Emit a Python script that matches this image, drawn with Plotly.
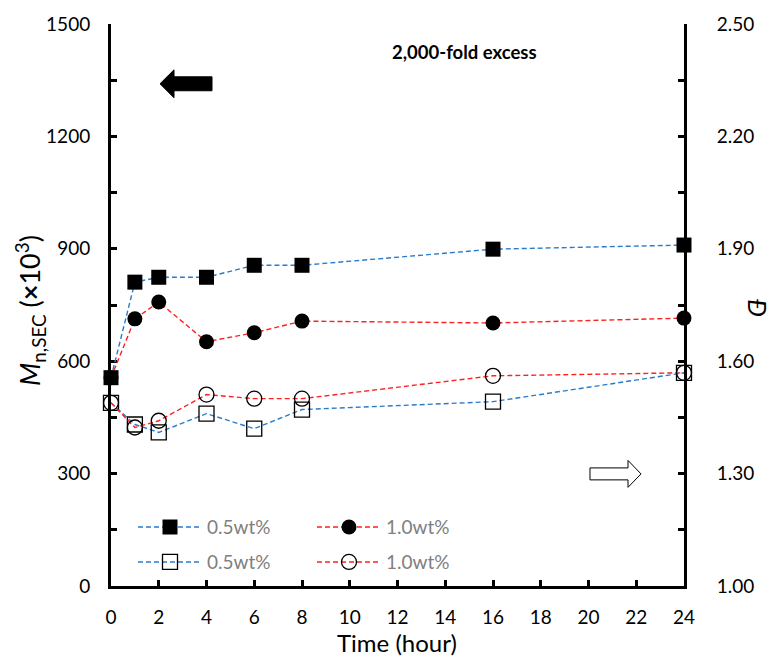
import plotly.graph_objects as go

# ---------------- data ----------------
time_h = [0, 1, 2, 4, 6, 8, 16, 24]
mn_05 = [556, 811, 824, 824, 856, 856, 899, 910]          # filled squares, left axis
mn_10 = [556, 713, 758, 652, 676, 707, 702, 715]          # filled circles, left axis
d_05 = [1.489, 1.431, 1.410, 1.460, 1.420, 1.471, 1.492, 1.569]  # open squares, right axis
d_10 = [1.489, 1.423, 1.441, 1.511, 1.500, 1.500, 1.561, 1.569]  # open circles, right axis
series_names = ["0.5wt%", "1.0wt%", "0.5wt%", "1.0wt%"]
x_ticks = list(range(0, 25, 2))

BLUE = "#2B7BCB"
RED = "#FF2020"
FONT = "Lato"

W, H = 772, 659
L, R, T, B = 111, 684, 22, 586  # plot area in pixels


def px(x):
    return (x - L) / (R - L)


def py(y):
    return (B - y) / (B - T)


fig = go.Figure()
dash = "5px,3px"

fig.add_trace(go.Scatter(x=time_h, y=mn_10, name=series_names[1], mode="lines+markers",
                         line=dict(color=RED, width=1.4, dash=dash),
                         marker=dict(symbol="circle", size=15, color="black"),
                         cliponaxis=False, legend="legend", legendrank=2))
fig.add_trace(go.Scatter(x=time_h, y=mn_05, name=series_names[0], mode="lines+markers",
                         line=dict(color=BLUE, width=1.4, dash=dash),
                         marker=dict(symbol="square", size=15, color="black"),
                         cliponaxis=False, legend="legend", legendrank=1))
fig.add_trace(go.Scatter(x=time_h, y=d_05, name=series_names[2], mode="lines+markers",
                         yaxis="y2",
                         line=dict(color=BLUE, width=1.4, dash=dash),
                         marker=dict(symbol="square-open", size=15, color="black",
                                     line=dict(width=1.3, color="black")),
                         cliponaxis=False, legend="legend2", legendrank=1))
fig.add_trace(go.Scatter(x=time_h, y=d_10, name=series_names[3], mode="lines+markers",
                         yaxis="y2",
                         line=dict(color=RED, width=1.4, dash=dash),
                         marker=dict(symbol="circle-open", size=15, color="black",
                                     line=dict(width=1.3, color="black")),
                         cliponaxis=False, legend="legend2", legendrank=2))

tickfont = dict(family=FONT, size=19, color="black")

legend_common = dict(orientation="h", font=dict(family=FONT, size=19, color="#7F7F7F"),
                     bgcolor="rgba(0,0,0,0)", itemwidth=64, entrywidth=100,
                     entrywidthmode="pixels", xanchor="left", yanchor="middle",
                     itemclick=False, itemdoubleclick=False)

fig.update_layout(
    width=W, height=H,
    margin=dict(l=L, r=W - R, t=T, b=H - B),
    paper_bgcolor="white", plot_bgcolor="white",
    showlegend=True,
    legend=dict(x=px(133), y=py(527), **legend_common),
    legend2=dict(x=px(133), y=py(562), **legend_common),
    xaxis=dict(range=[0, 24], tickvals=x_ticks, showgrid=False, zeroline=False,
               showline=True, linecolor="black", linewidth=3, ticks="inside",
               ticklen=6, tickwidth=3, tickcolor="black", tickfont=tickfont,
               ticklabelstandoff=12, layer="below traces"),
    yaxis=dict(range=[0, 1500], tick0=0, dtick=300, showgrid=False, zeroline=False,
               showline=True, linecolor="black", linewidth=3, ticks="inside",
               ticklen=6, tickwidth=3, tickcolor="black", tickfont=tickfont,
               minor=dict(tick0=0, dtick=150, ticks="inside", ticklen=6, tickwidth=3,
                          tickcolor="black"),
               ticklabelstandoff=14, layer="below traces"),
    yaxis2=dict(range=[1.0, 2.5], tick0=1.0, dtick=0.3, tickformat=".2f", overlaying="y",
                side="right", showgrid=False, zeroline=False,
                showline=True, linecolor="black", linewidth=3, ticks="inside",
                ticklen=6, tickwidth=3, tickcolor="black", tickfont=tickfont,
                minor=dict(tick0=1.0, dtick=0.15, ticks="inside", ticklen=6, tickwidth=3,
                           tickcolor="black"),
                ticklabelstandoff=26, layer="below traces"),
)

# axis titles
fig.add_annotation(text="<i>M</i><sub>n,SEC</sub> (<b>×</b>10<sup>3</sup>)",
                   xref="paper", yref="paper", x=px(30), y=py(310), textangle=-90,
                   showarrow=False, font=dict(family=FONT, size=27, color="black"),
                   xanchor="center", yanchor="middle")
fig.add_annotation(text="<i>Đ</i>", xref="paper", yref="paper", x=px(758), y=py(307),
                   textangle=90, showarrow=False,
                   font=dict(family=FONT, size=25, color="black"),
                   xanchor="center", yanchor="middle")
fig.add_annotation(text="Time (hour)", xref="paper", yref="paper", x=px(397), y=py(643),
                   showarrow=False, font=dict(family=FONT, size=24, color="black"),
                   xanchor="center", yanchor="middle")
fig.add_annotation(text="<b>2,000-fold excess</b>", xref="paper", yref="paper",
                   x=px(464), y=py(50), showarrow=False,
                   font=dict(family=FONT, size=18.5, color="black"),
                   xanchor="center", yanchor="middle")


# block arrows (decorations)
def arrow_path(pts):
    s = "M " + " L ".join(f"{px(a):.5f},{py(b):.5f}" for a, b in pts) + " Z"
    return s


left_arrow = [(160, 82), (174, 68), (174, 75), (212, 75), (212, 89), (174, 89), (174, 96)]
right_arrow = [(641, 473.5), (628, 460), (628, 467.5), (590, 467.5), (590, 479.5),
               (628, 479.5), (628, 487)]
fig.add_shape(type="path", xref="paper", yref="paper", path=arrow_path(left_arrow),
              fillcolor="black", line=dict(color="black", width=1))
fig.add_shape(type="path", xref="paper", yref="paper", path=arrow_path(right_arrow),
              fillcolor="white", line=dict(color="black", width=1))

fig.write_html("out.html")
